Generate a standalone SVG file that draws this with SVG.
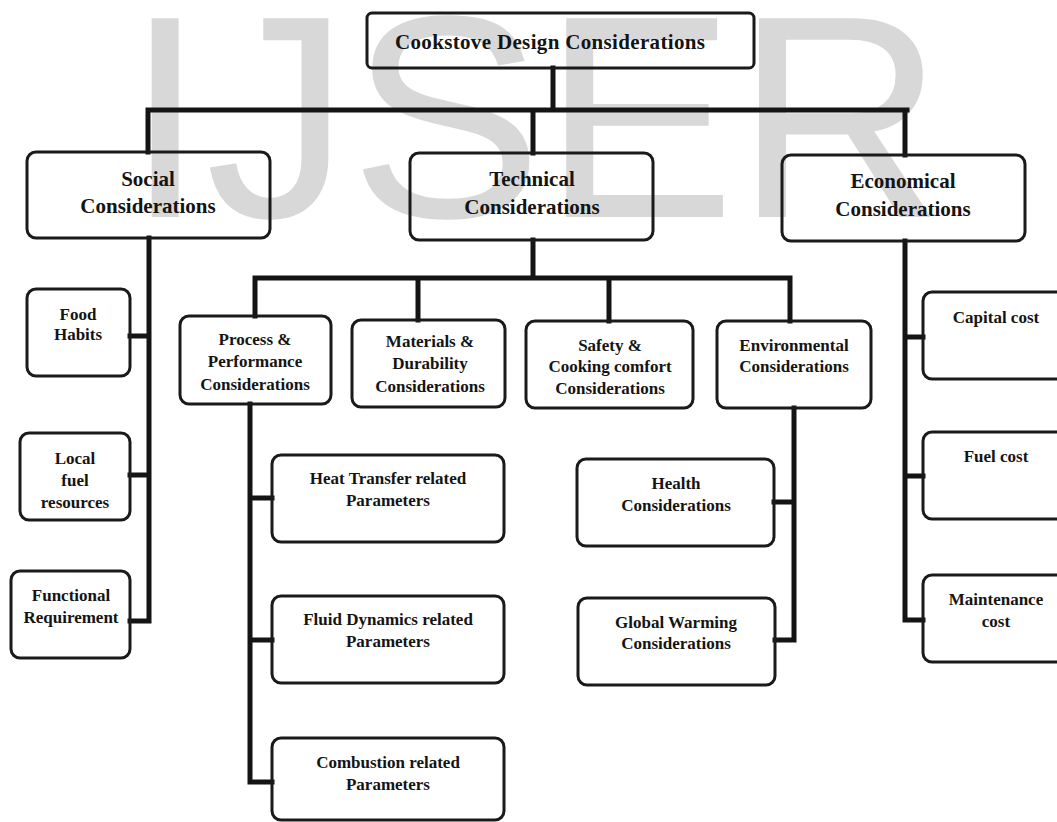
<svg xmlns="http://www.w3.org/2000/svg" width="1057" height="822" viewBox="0 0 1057 822">
<style>
.box{fill:none;stroke:#1a1a1a;stroke-width:3}
.t{font-family:"Liberation Serif","Times New Roman",serif;font-weight:bold;fill:#141414;text-anchor:middle}
.L{font-size:21px}
.S{font-size:17px}
.c{fill:none;stroke:#141414;stroke-width:5;stroke-linejoin:miter;stroke-linecap:square}
.wm{font-family:"Liberation Sans",Arial,sans-serif;font-size:289px;fill:#d8d8d8}
</style>
<rect width="1057" height="822" fill="#fff"/>
<text class="wm" x="125" y="217">IJSER</text>
<g id="connectors">
<path class="c" d="M553 68V110M148 110H907M148 110V152M533 110V153M905 110V155"/>
<path class="c" d="M149 238V621H130M130 336H149M130 475H149"/>
<path class="c" d="M533 240V278M255 278H790M255 278V316M418 278V320M609 278V321M790 278V321"/>
<path class="c" d="M250 404V782H272M250 498H272M250 640H272"/>
<path class="c" d="M794 408V640H775M774 502H794"/>
<path class="c" d="M905 241V620H923M905 337H923M905 476H923"/>
</g>
<g id="root"><rect class="box" x="367" y="13" width="387" height="55" rx="5"/><text class="t L" x="550" y="49" textLength="310">Cookstove Design Considerations</text></g>
<g id="social"><rect class="box" x="27" y="152" width="243" height="86" rx="9"/><text class="t L" x="148" y="186">Social</text><text class="t L" x="148" y="213">Considerations</text></g>
<g id="technical"><rect class="box" x="410" y="153" width="243" height="87" rx="9"/><text class="t L" x="532" y="186">Technical</text><text class="t L" x="532" y="214">Considerations</text></g>
<g id="economical"><rect class="box" x="782" y="155" width="243" height="86" rx="9"/><text class="t L" x="903" y="188">Economical</text><text class="t L" x="903" y="216">Considerations</text></g>
<g id="food"><rect class="box" x="27" y="289" width="103" height="87" rx="9"/><text class="t S" x="78" y="320">Food</text><text class="t S" x="78" y="340">Habits</text></g>
<g id="local"><rect class="box" x="20" y="433" width="110" height="87" rx="9"/><text class="t S" x="75" y="464">Local</text><text class="t S" x="75" y="486">fuel</text><text class="t S" x="75" y="508">resources</text></g>
<g id="functional"><rect class="box" x="11" y="571" width="119" height="87" rx="9"/><text class="t S" x="71" y="601">Functional</text><text class="t S" x="71" y="623">Requirement</text></g>
<g id="process"><rect class="box" x="180" y="316" width="151" height="88" rx="9"/><text class="t S" x="255" y="345">Process &amp;</text><text class="t S" x="255" y="367">Performance</text><text class="t S" x="255" y="390">Considerations</text></g>
<g id="materials"><rect class="box" x="352" y="320" width="153" height="87" rx="9"/><text class="t S" x="430" y="347">Materials &amp;</text><text class="t S" x="430" y="369">Durability</text><text class="t S" x="430" y="392">Considerations</text></g>
<g id="safety"><rect class="box" x="526" y="321" width="167" height="87" rx="9"/><text class="t S" x="610" y="351">Safety &amp;</text><text class="t S" x="610" y="372">Cooking comfort</text><text class="t S" x="610" y="394">Considerations</text></g>
<g id="environmental"><rect class="box" x="717" y="321" width="154" height="87" rx="9"/><text class="t S" x="794" y="351">Environmental</text><text class="t S" x="794" y="372">Considerations</text></g>
<g id="heat"><rect class="box" x="272" y="455" width="232" height="87" rx="9"/><text class="t S" x="388" y="484">Heat Transfer related</text><text class="t S" x="388" y="506">Parameters</text></g>
<g id="fluid"><rect class="box" x="272" y="596" width="232" height="87" rx="9"/><text class="t S" x="388" y="625">Fluid Dynamics related</text><text class="t S" x="388" y="647">Parameters</text></g>
<g id="combustion"><rect class="box" x="272" y="738" width="232" height="82" rx="9"/><text class="t S" x="388" y="768">Combustion related</text><text class="t S" x="388" y="790">Parameters</text></g>
<g id="health"><rect class="box" x="577" y="459" width="197" height="87" rx="9"/><text class="t S" x="676" y="489">Health</text><text class="t S" x="676" y="511">Considerations</text></g>
<g id="global"><rect class="box" x="578" y="598" width="197" height="87" rx="9"/><text class="t S" x="676" y="628">Global Warming</text><text class="t S" x="676" y="649">Considerations</text></g>
<g id="capital"><rect class="box" x="923" y="292" width="150" height="87" rx="9"/><text class="t S" x="996" y="323">Capital cost</text></g>
<g id="fuelcost"><rect class="box" x="923" y="432" width="150" height="87" rx="9"/><text class="t S" x="996" y="462">Fuel cost</text></g>
<g id="maintenance"><rect class="box" x="923" y="575" width="150" height="87" rx="9"/><text class="t S" x="996" y="605">Maintenance</text><text class="t S" x="996" y="627">cost</text></g>
</svg>
